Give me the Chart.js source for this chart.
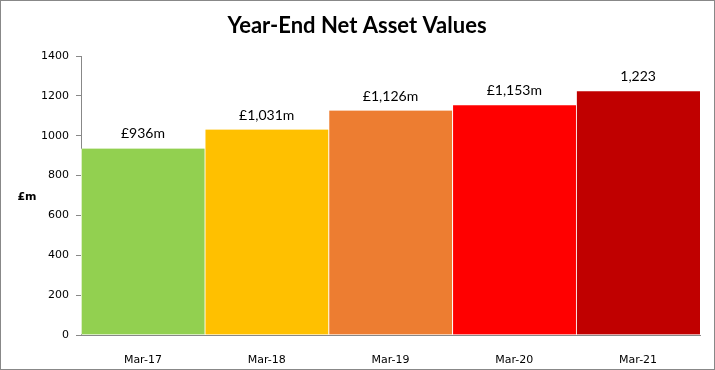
<!DOCTYPE html>
<html>
<head>
<meta charset="utf-8">
<script src="https://cdn.jsdelivr.net/npm/chart.js@4"></script>
<style>
  html, body { margin: 0; padding: 0; background: #fff; }
  #wrap { width: 715px; height: 370px; }
</style>
</head>
<body>
<div id="wrap"><canvas id="navChart" width="715" height="370"></canvas></div>
<script>
// Year-end net asset values (£m)
const years = ["Mar-17", "Mar-18", "Mar-19", "Mar-20", "Mar-21"];
const navValues = [936, 1031, 1126, 1153, 1223];
const navLabels = ["£936m", "£1,031m", "£1,126m", "£1,153m", "1,223"];
const barColours = ["#92D050", "#FFC000", "#ED7D31", "#FF0000", "#C00000"];

const tickFont = { family: "'DejaVu Sans', Verdana, sans-serif", size: 11 };

// title, y-axis caption, value labels and the outer frame
const extras = {
  id: "extras",
  afterDraw(chart) {
    const { ctx } = chart;
    ctx.save();
    ctx.fillStyle = "#000";
    ctx.textAlign = "center";
    ctx.textBaseline = "middle";
    ctx.font = "bold 22px Lato";
    ctx.fillText("Year-End Net Asset Values", 357, 26);

    ctx.font = "bold 11px 'DejaVu Sans'";
    ctx.fillText("£m", 27, 197);

    ctx.font = "14px Lato";
    ctx.textBaseline = "alphabetic";
    const meta = chart.getDatasetMeta(0);
    meta.data.forEach((bar, i) => {
      ctx.fillText(navLabels[i], bar.x, bar.y - 10);
    });

    ctx.strokeStyle = "#888";
    ctx.lineWidth = 1;
    ctx.strokeRect(0.5, 0.5, chart.width - 1, chart.height - 1);
    ctx.restore();
  },
};

new Chart(document.getElementById("navChart"), {
  type: "bar",
  data: {
    labels: years,
    datasets: [{
      data: navValues,
      backgroundColor: barColours,
      borderColor: "#fff",
      borderWidth: { left: 1, right: 0, top: 0, bottom: 0 },
      borderSkipped: false,
      categoryPercentage: 1,
      barPercentage: 1,
    }],
  },
  options: {
    responsive: false,
    animation: false,
    layout: { padding: { top: 56, right: 15, bottom: 0, left: 0 } },
    plugins: { legend: { display: false }, tooltip: { enabled: false } },
    scales: {
      x: {
        grid: { display: false },
        border: { display: true, color: "#888" },
        ticks: { color: "#000", font: tickFont, padding: 11 },
        afterFit(s) { s.height = 35; },
      },
      y: {
        min: 0,
        max: 1400,
        ticks: {
          stepSize: 200,
          color: "#000",
          font: tickFont,
          padding: 7,
          callback: (v) => String(v),
        },
        grid: { drawOnChartArea: false, tickLength: 5, color: "#888" },
        border: { display: true, color: "#888" },
        afterFit(s) { s.width = 81; },
      },
    },
  },
  plugins: [extras],
});
</script>
</body>
</html>
